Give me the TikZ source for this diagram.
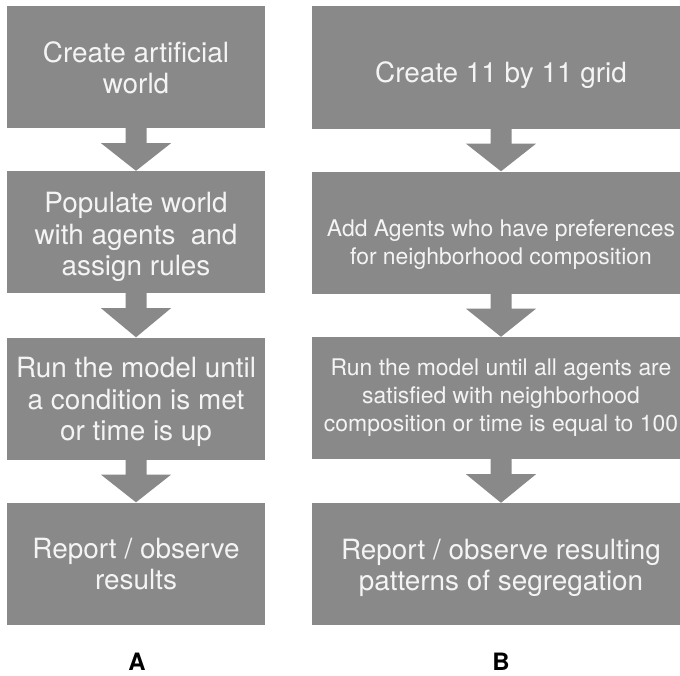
\documentclass[tikz,border=0pt]{standalone}
\usepackage{fontspec}
\setmainfont{TeX Gyre Heros}
\usetikzlibrary{calc}
\definecolor{boxgray}{HTML}{898989}
\definecolor{boxtext}{HTML}{F4F4F4}
\tikzset{
  box/.style={fill=boxgray, draw=none, inner sep=0pt, minimum height=122bp},
  lbox/.style={box, minimum width=258bp},
  rbox/.style={box, minimum width=378bp},
  bigtext/.style={text=boxtext, align=center, inner sep=0pt, font=\fontsize{28}{31.5}\selectfont},
  smalltext/.style={text=boxtext, align=center, inner sep=0pt, font=\fontsize{23}{28}\selectfont},
  panel/.style={font=\fontsize{24}{28}\selectfont\bfseries, text=black, inner sep=0pt}
}
\newcommand\blockarr[2]{%
  \fill[boxgray] ([xshift=-10.5bp]#1.south) -- ([xshift=10.5bp]#1.south)
    -- ([xshift=10.5bp,yshift=-15bp]#1.south) -- ([xshift=35bp,yshift=-15bp]#1.south)
    -- (#2.north) -- ([xshift=-35bp,yshift=-15bp]#1.south)
    -- ([xshift=-10.5bp,yshift=-15bp]#1.south) -- cycle;}
\begin{document}
\begin{tikzpicture}[x=1bp, y=-1bp]
\fill[white] (0,0) rectangle (680,676);
\clip (0,0) rectangle (680,676);
% left column
\node[lbox] (a1) at (136,67) {};
\node[lbox] (a2) at (136,232) {};
\node[lbox] (a3) at (136,398.5) {};
\node[lbox] (a4) at (136,563.5) {};
\node[bigtext] (a1t) at (136,67.5) {Create artificial\\world};
\node[bigtext] (a2t) at (136,237) {Populate world\\with agents\ \ and\\assign rules};
\node[bigtext] (a3t) at (136,402) {Run the model until\\a condition is met\\or time is up};
\node[bigtext] (a4t) at (136,564) {Report / observe\\results};
\blockarr{a1}{a2}
\blockarr{a2}{a3}
\blockarr{a3}{a4}
% right column
\node[rbox] (b1) at (501,67.5) {};
\node[rbox] (b2) at (501,232.5) {};
\node[rbox] (b3) at (501,398) {};
\node[rbox] (b4) at (501,564) {};
\node[bigtext] (b1t) at (501,75) {Create 11 by 11 grid};
\node[smalltext] (b2t) at (501,245) {Add Agents who have preferences\\for neighborhood composition};
\node[smalltext] (b3t) at (501,397.5) {Run the model until all agents are\\satisfied with neighborhood\\composition or time is equal to 100};
\node[bigtext] (b4t) at (501,568) {Report / observe resulting\\patterns of segregation};
\blockarr{b1}{b2}
\blockarr{b2}{b3}
\blockarr{b3}{b4}
% panel labels
\node[panel] (la) at (137,662) {A};
\node[panel] (lb) at (501,662) {B};
\end{tikzpicture}
\end{document}
